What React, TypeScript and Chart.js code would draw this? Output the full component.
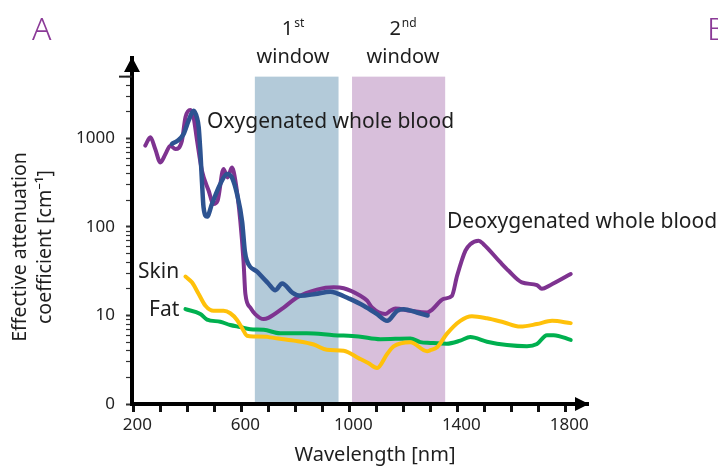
import React, { useEffect, useRef } from "react";
import { Chart, registerables } from "chart.js";

Chart.register(...registerables);

// Deoxygenated whole blood
const deoxyNm = [244, 263, 281, 300, 319, 337, 356, 380, 393, 411, 423, 436, 454, 479, 497, 512, 534, 549, 565, 578, 596, 608, 615, 633, 652, 683, 700, 757, 806, 880, 942, 979, 1041, 1066, 1084, 1133, 1152, 1170, 1226, 1288, 1306, 1349, 1380, 1399, 1430, 1448, 1479, 1497, 1559, 1590, 1639, 1695, 1713, 1744, 1820];
const deoxyMu = [830, 1030, 760, 537, 668, 830, 760, 945, 1740, 2100, 1740, 945, 434, 257, 182, 198, 452, 363, 470, 333, 118, 41.5, 17.5, 12.3, 10.3, 9.1, 9.4, 12.3, 16, 19.6, 20.8, 20.3, 16.7, 14.7, 12.3, 10.4, 11.3, 12, 11.3, 10.8, 11.6, 15.4, 16.7, 28, 54, 64, 70, 64, 40, 32, 23.7, 22, 20, 22, 29.4];

// Oxygenated whole blood
const oxyNm = [343, 365, 386, 405, 423, 436, 442, 448, 454, 460, 473, 491, 522, 547, 565, 584, 603, 613, 620, 660, 700, 726, 751, 790, 819, 874, 930, 954, 1000, 1053, 1100, 1140, 1177, 1201, 1250, 1290];
const oxyMu = [870, 950, 1120, 1600, 2060, 1700, 1340, 727, 333, 167, 131, 182, 306, 398, 363, 236, 114, 53, 42, 31, 23, 19.3, 23, 18, 16.7, 17.5, 18.6, 17.8, 15.5, 12.9, 10.5, 8.7, 11.3, 11.8, 10.8, 10];

// Skin
const skinNm = [393, 417, 442, 467, 497, 534, 559, 584, 605, 621, 646, 695, 707, 794, 868, 917, 979, 1034, 1070, 1103, 1140, 1164, 1226, 1288, 1300, 1325, 1361, 1411, 1454, 1510, 1571, 1633, 1695, 1751, 1820];
const skinMu = [27.5, 23.7, 17.5, 12.9, 11.3, 11.3, 10.6, 8.9, 7, 5.9, 5.8, 5.75, 5.66, 5.2, 4.7, 4.1, 4.0, 3.3, 2.9, 2.55, 3.67, 4.47, 4.98, 3.95, 4.05, 4.37, 6.2, 8.7, 9.8, 9.3, 8.4, 7.5, 8.0, 8.7, 8.2];

// Fat
const fatNm = [393, 448, 473, 522, 559, 596, 633, 683, 744, 843, 942, 1034, 1115, 1226, 1263, 1300, 1361, 1411, 1448, 1510, 1584, 1658, 1695, 1732, 1757, 1820];
const fatMu = [11.8, 10.4, 9.0, 8.5, 7.8, 7.4, 7.0, 6.9, 6.3, 6.3, 6.0, 5.8, 5.4, 5.5, 5.0, 4.9, 4.8, 5.2, 5.7, 5.06, 4.64, 4.5, 4.77, 6.0, 6.0, 5.3];

// Optical windows (nm) and their shading
const windowRanges = [
  [650, 960],
  [1010, 1355],
];
const windowColors = ["#b3cad9", "#d8bfdb"];
const windowTop = 5000;

// Axis ticks
const xTickValues = [200, 300, 400, 500, 600, 700, 800, 900, 1000, 1100, 1200, 1300, 1400, 1500, 1600, 1700, 1800];
const xLabelValues = [200, 600, 1000, 1400, 1800];
const yDecades = [1, 10, 100, 1000];
const yTickMax = 5000;

const colors = {
  deoxy: "#7e3390",
  oxy: "#2d5391",
  skin: "#ffc10a",
  fat: "#00b04f",
  text: "#1e1e1e",
  panel: "#8b3a97",
};

const FONT = "'Noto Sans', 'DejaVu Sans', sans-serif";

const toPoints = (xs: number[], ys: number[]) => xs.map((x, i) => ({ x, y: ys[i] }));

const decorPlugin = {
  id: "decor",
  beforeDatasetsDraw(chart: any) {
    const { ctx, chartArea, scales } = chart;
    const x = scales.x;
    const y = scales.y;
    ctx.save();
    windowRanges.forEach(([a, b], i) => {
      const x0 = x.getPixelForValue(a);
      const x1 = x.getPixelForValue(b);
      const top = y.getPixelForValue(windowTop);
      ctx.fillStyle = windowColors[i];
      ctx.fillRect(x0, top, x1 - x0, chartArea.bottom - 2 - top);
    });
    ctx.restore();
  },
  afterDraw(chart: any) {
    const { ctx, chartArea, scales } = chart;
    const y = scales.y;
    ctx.save();

    // long tick at the top of the y axis
    const yTop = y.getPixelForValue(yTickMax);
    ctx.strokeStyle = "#222";
    ctx.lineWidth = 2;
    ctx.beginPath();
    ctx.moveTo(chartArea.left - 13, yTop);
    ctx.lineTo(chartArea.left, yTop);
    ctx.stroke();

    // arrow heads
    ctx.fillStyle = "#000";
    ctx.beginPath();
    ctx.moveTo(chartArea.left, chartArea.top - 1);
    ctx.lineTo(chartArea.left - 8, chartArea.top + 14);
    ctx.lineTo(chartArea.left + 8, chartArea.top + 14);
    ctx.closePath();
    ctx.fill();
    ctx.beginPath();
    ctx.moveTo(chartArea.right + 1, chartArea.bottom);
    ctx.lineTo(chartArea.right - 13, chartArea.bottom - 7);
    ctx.lineTo(chartArea.right - 13, chartArea.bottom + 7);
    ctx.closePath();
    ctx.fill();

    // panel letters
    ctx.fillStyle = colors.panel;
    ctx.textBaseline = "alphabetic";
    ctx.textAlign = "left";
    ctx.font = `300 32px ${FONT}`;
    ctx.fillText("A", 32, 40);
    ctx.fillText("B", 707, 40);

    ctx.fillStyle = colors.text;
    // window headings
    const heading = (num: string, sup: string, cx: number, cxWin: number) => {
      ctx.font = `20px ${FONT}`;
      const wNum = ctx.measureText(num).width;
      ctx.font = `12px ${FONT}`;
      const wSup = ctx.measureText(sup).width;
      const start = cx - (wNum + wSup + 1) / 2;
      ctx.textAlign = "left";
      ctx.font = `20px ${FONT}`;
      ctx.fillText(num, start, 35);
      ctx.font = `12px ${FONT}`;
      ctx.fillText(sup, start + wNum + 1, 27);
      ctx.textAlign = "center";
      ctx.font = `20px ${FONT}`;
      ctx.fillText("window", cxWin, 63);
    };
    heading("1", "st", 293, 293);
    heading("2", "nd", 403, 403);

    // curve labels
    ctx.textAlign = "left";
    ctx.font = `21px ${FONT}`;
    ctx.fillText("Oxygenated whole blood", 207, 128);
    ctx.fillText("Deoxygenated whole blood", 447, 228);
    ctx.fillText("Skin", 138, 278);
    ctx.fillText("Fat", 149, 316);

    // axis titles
    ctx.textAlign = "center";
    ctx.font = `20px ${FONT}`;
    ctx.fillText("Wavelength [nm]", 375, 461);

    ctx.font = `19.5px ${FONT}`;
    ctx.save();
    ctx.translate(26, 247);
    ctx.rotate(-Math.PI / 2);
    ctx.fillText("Effective attenuation", 0, 0);
    ctx.restore();
    ctx.save();
    ctx.translate(51, 247);
    ctx.rotate(-Math.PI / 2);
    ctx.fillText("coefficient [cm\u207B\u00B9]", 0, 0);
    ctx.restore();

    ctx.restore();
  },
};

const lineStyle = {
  pointRadius: 0,
  borderWidth: 4,
  fill: false,
  cubicInterpolationMode: "monotone" as const,
  borderCapStyle: "round" as const,
  borderJoinStyle: "round" as const,
};

export default function App() {
  const canvasRef = useRef<HTMLCanvasElement>(null);

  useEffect(() => {
    const canvas = canvasRef.current;
    if (!canvas) return;
    const chart = new Chart(canvas, {
      type: "line",
      data: {
        datasets: [
          { label: "Oxygenated whole blood", data: toPoints(oxyNm, oxyMu), borderColor: colors.oxy, order: 0, ...lineStyle, borderWidth: 4.5 },
          { label: "Deoxygenated whole blood", data: toPoints(deoxyNm, deoxyMu), borderColor: colors.deoxy, order: 1, ...lineStyle },
          { label: "Skin", data: toPoints(skinNm, skinMu), borderColor: colors.skin, order: 2, ...lineStyle },
          { label: "Fat", data: toPoints(fatNm, fatMu), borderColor: colors.fat, order: 3, ...lineStyle },
        ],
      },
      options: {
        responsive: false,
        animation: false,
        devicePixelRatio: 1,
        layout: { padding: { left: 0, top: 58, right: 130, bottom: 0 } },
        plugins: {
          legend: { display: false },
          tooltip: { enabled: false },
        },
        scales: {
          x: {
            type: "linear",
            min: 195,
            max: 1884,
            afterFit: (scale: any) => {
              scale.height = 63;
            },
            afterBuildTicks: (scale: any) => {
              scale.ticks = xTickValues.map((value) => ({ value }));
            },
            border: { display: true, color: "#000", width: 4 },
            grid: {
              drawOnChartArea: false,
              drawTicks: true,
              tickLength: 8,
              tickWidth: 3,
              tickColor: "#111",
            },
            ticks: {
              autoSkip: false,
              maxRotation: 0,
              padding: 3,
              labelOffset: 4,
              color: "#222",
              font: { family: FONT, size: 17 },
              callback: (v: any) => (xLabelValues.includes(Number(v)) ? String(v) : ""),
            },
          },
          y: {
            type: "logarithmic",
            min: 1,
            max: 8120,
            afterFit: (scale: any) => {
              scale.width = 132;
            },
            afterBuildTicks: (scale: any) => {
              const ticks: { value: number; major?: boolean }[] = [];
              yDecades.forEach((d) => {
                for (let m = 1; m <= 9; m++) {
                  if (d * m <= yTickMax) ticks.push({ value: d * m, major: m === 1 });
                }
              });
              scale.ticks = ticks;
            },
            border: { display: true, color: "#000", width: 4 },
            grid: {
              drawOnChartArea: false,
              drawTicks: true,
              tickLength: 6,
              tickWidth: (c: any) => (yDecades.includes(c.tick?.value) ? 2 : 1.2),
              tickColor: "#333",
            },
            ticks: {
              autoSkip: false,
              padding: 11,
              color: "#222",
              font: { family: FONT, size: 17 },
              callback: (v: any) => {
                const n = Number(v);
                if (!yDecades.includes(n)) return "";
                return n === 1 ? "0" : String(n);
              },
            },
          },
        },
      },
      plugins: [decorPlugin],
    });
    return () => chart.destroy();
  }, []);

  return (
    <div style={{ position: "absolute", left: 0, top: 0, width: 718, height: 467, background: "#fff" }}>
      <canvas ref={canvasRef} width={718} height={467} style={{ display: "block" }} />
    </div>
  );
}
